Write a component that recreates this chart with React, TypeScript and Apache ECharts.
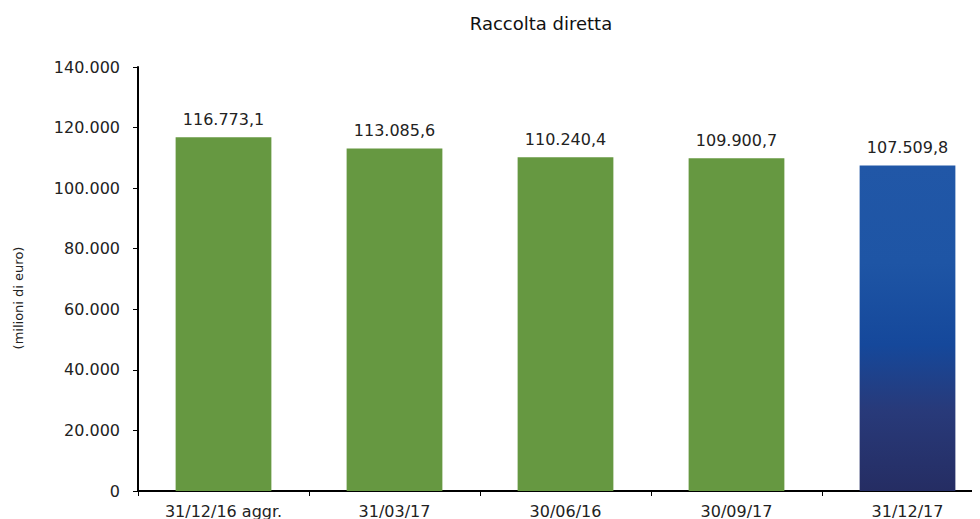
import React, { useEffect, useRef } from "react";
import * as echarts from "echarts";

const categories = ["31/12/16 aggr.", "31/03/17", "30/06/16", "30/09/17", "31/12/17"];
const values = [116773.1, 113085.6, 110240.4, 109900.7, 107509.8];
const yTicks = { min: 0, max: 140000, interval: 20000 };

const fmtThousands = (v: number) => {
  const s = Math.round(v).toString();
  return s.replace(/\B(?=(\d{3})+(?!\d))/g, ".");
};
const fmtLabel = (v: number) => {
  const [i, d] = v.toFixed(1).split(".");
  return fmtThousands(Number(i)) + "," + d;
};

const FONT = "'DejaVu Sans', sans-serif";

export default function App() {
  const ref = useRef<HTMLDivElement>(null);
  useEffect(() => {
    if (!ref.current) return;
    const chart = echarts.init(ref.current, undefined, { renderer: "svg" });
    const green = "#669841";
    const blue = new echarts.graphic.LinearGradient(0, 0, 0, 1, [
      { offset: 0, color: "#2157A7" },
      { offset: 0.3, color: "#1E55A5" },
      { offset: 0.55, color: "#15489B" },
      { offset: 0.75, color: "#283A7A" },
      { offset: 1, color: "#252D63" },
    ]);
    chart.setOption({
      animation: false,
      backgroundColor: "#ffffff",
      title: {
        text: "Raccolta diretta",
        left: 528,
        top: 1,
        textAlign: "center",
        textStyle: { fontFamily: FONT, fontSize: 18, fontWeight: "normal", color: "#111" },
      },
      graphic: [
        {
          type: "text",
          x: 10,
          y: 290,
          rotation: Math.PI / 2,
          style: {
            text: "(milioni di euro)",
            fontFamily: FONT,
            fontSize: 13,
            fill: "#222",
            textAlign: "center",
            textVerticalAlign: "middle",
          },
        },
      ],
      grid: { left: 130, top: 59, width: 855, height: 424, containLabel: false },
      xAxis: {
        type: "category",
        data: categories,
        axisLine: { lineStyle: { color: "#000", width: 2 } },
        axisTick: { show: true, alignWithLabel: false, length: 5, lineStyle: { color: "#000" } },
        axisLabel: { fontFamily: FONT, fontSize: 16, color: "#222", margin: 12 },
      },
      yAxis: {
        type: "value",
        min: yTicks.min,
        max: yTicks.max,
        interval: yTicks.interval,
        splitLine: { show: false },
        axisLine: { show: true, lineStyle: { color: "#000", width: 2 } },
        axisTick: { show: true, length: 5, lineStyle: { color: "#000" } },
        axisLabel: {
          fontFamily: FONT,
          fontSize: 16,
          color: "#222",
          margin: 18,
          formatter: (v: number) => fmtThousands(v),
        },
      },
      series: [
        {
          type: "bar",
          barWidth: "56%",
          data: values.map((v, i) => ({
            value: v,
            itemStyle: { color: i === values.length - 1 ? blue : green },
          })),
          label: {
            show: true,
            position: "top",
            distance: 10,
            fontFamily: FONT,
            fontSize: 16,
            color: "#222",
            formatter: (p: any) => fmtLabel(p.value),
          },
        },
      ],
    });
    return () => chart.dispose();
  }, []);
  return (
    <div style={{ width: 964, height: 511, overflow: "hidden" }}>
      <div ref={ref} style={{ width: 1000, height: 511 }} />
    </div>
  );
}
